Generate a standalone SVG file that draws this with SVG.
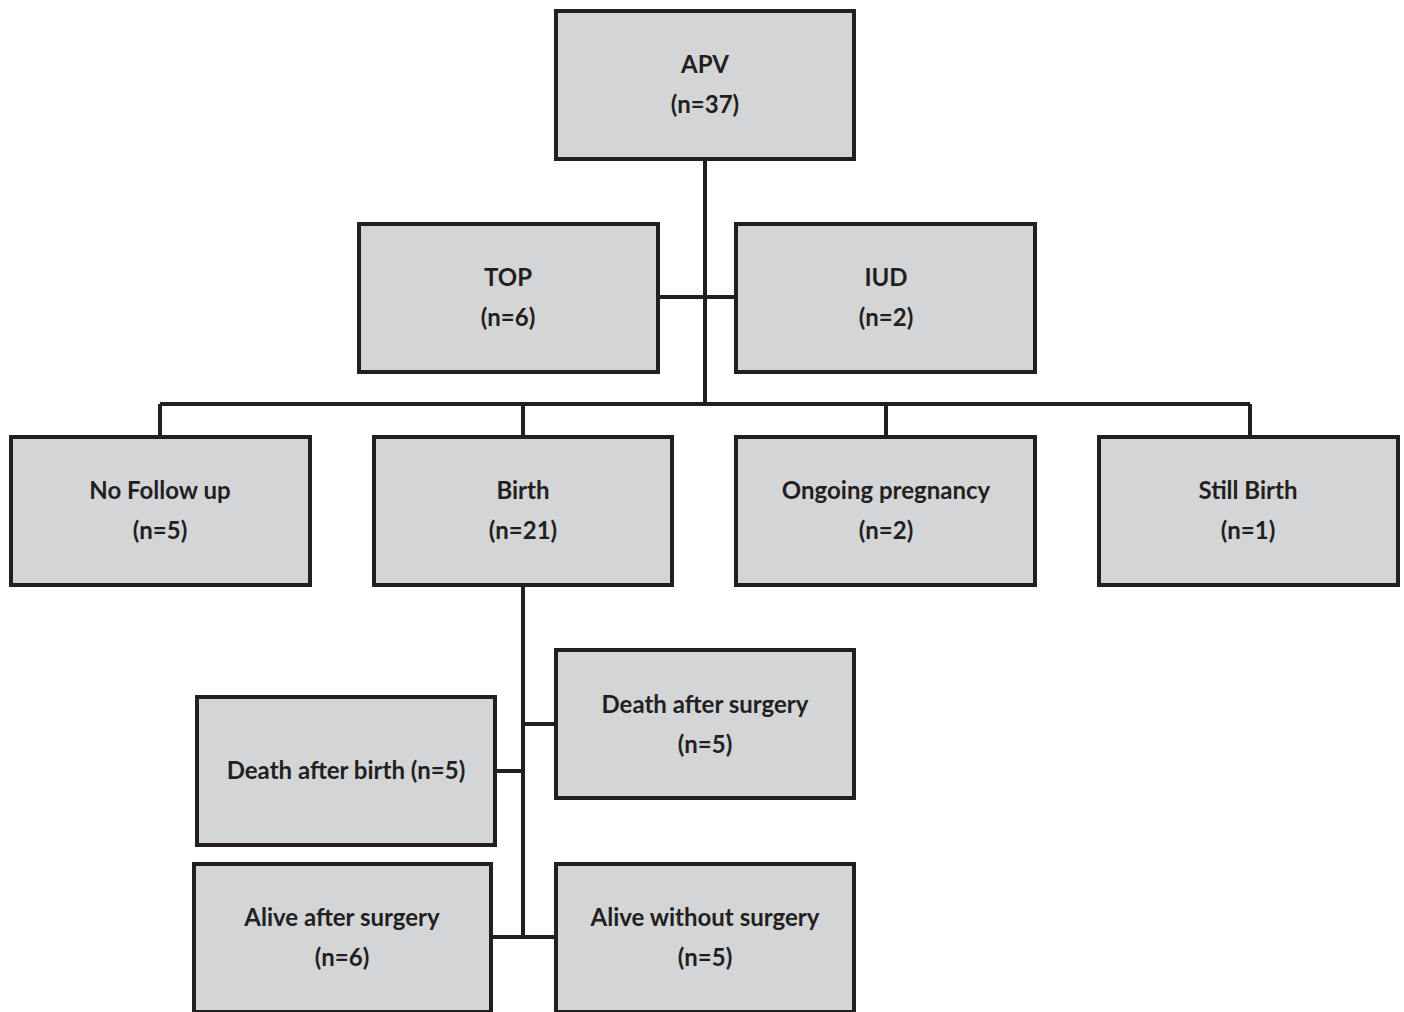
<svg xmlns="http://www.w3.org/2000/svg" width="1404" height="1012" viewBox="0 0 1404 1012">
<style>
.box{fill:#d4d5d7;stroke:#231f20;stroke-width:4}
.t{font-family:Lato,"Open Sans","Liberation Sans",sans-serif;font-weight:bold;font-size:24px;fill:#231f20;text-anchor:middle;dominant-baseline:central}
.c{stroke:#231f20;stroke-width:4;fill:none}
</style>
<rect width="1404" height="1012" fill="#ffffff"/>
<g id="connectors">
<path class="c" d="M705 160V404M659 297H736M160 404H1250M160 404V436M523 404V436M886 404V436M1250 404V436M523 587V937M523 724H556M497 771H523M493 937H556"/>
</g>
<g id="apv"><rect class="box" x="556" y="11" width="298" height="148"/><text class="t" x="705" y="63">APV</text><text class="t" x="705" y="103">(n=37)</text></g>
<g id="top"><rect class="box" x="359" y="224" width="299" height="148"/><text class="t" x="508" y="276">TOP</text><text class="t" x="508" y="316">(n=6)</text></g>
<g id="iud"><rect class="box" x="736" y="224" width="299" height="148"/><text class="t" x="886" y="276">IUD</text><text class="t" x="886" y="316">(n=2)</text></g>
<g id="nofollow"><rect class="box" x="11" y="437" width="299" height="148"/><text class="t" x="160" y="489">No Follow up</text><text class="t" x="160" y="529">(n=5)</text></g>
<g id="birth"><rect class="box" x="374" y="437" width="298" height="148"/><text class="t" x="523" y="489">Birth</text><text class="t" x="523" y="529">(n=21)</text></g>
<g id="ongoing"><rect class="box" x="736" y="437" width="299" height="148"/><text class="t" x="886" y="489">Ongoing pregnancy</text><text class="t" x="886" y="529">(n=2)</text></g>
<g id="stillbirth"><rect class="box" x="1099" y="437" width="299" height="148"/><text class="t" x="1248" y="489">Still Birth</text><text class="t" x="1248" y="529">(n=1)</text></g>
<g id="deathsurgery"><rect class="box" x="556" y="650" width="298" height="148"/><text class="t" x="705" y="703">Death after surgery</text><text class="t" x="705" y="743">(n=5)</text></g>
<g id="deathbirth"><rect class="box" x="197" y="697" width="298" height="148"/><text class="t" x="346" y="769">Death after birth (n=5)</text></g>
<g id="alivesurgery"><rect class="box" x="194" y="864" width="297" height="148"/><text class="t" x="342" y="916">Alive after surgery</text><text class="t" x="342" y="956">(n=6)</text></g>
<g id="alivenosurgery"><rect class="box" x="556" y="864" width="298" height="148"/><text class="t" x="705" y="916">Alive without surgery</text><text class="t" x="705" y="956">(n=5)</text></g>
</svg>
